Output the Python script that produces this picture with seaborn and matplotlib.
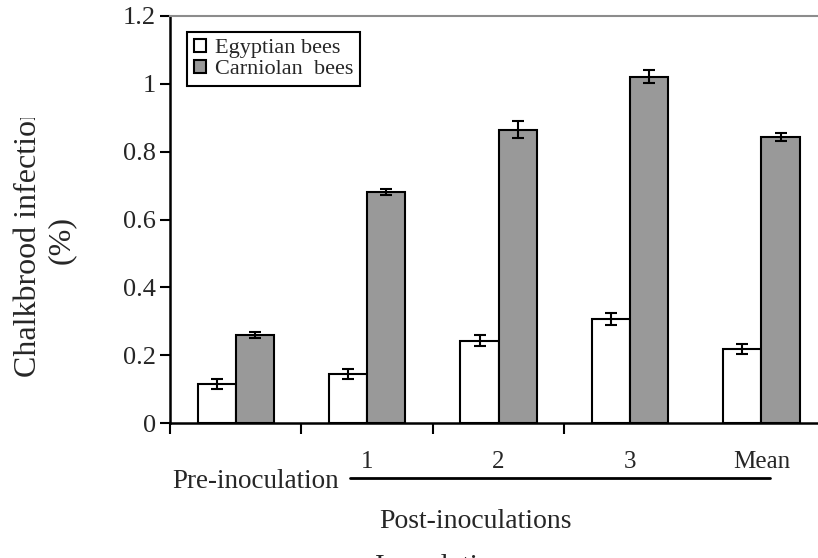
import numpy as np
import pandas as pd
import matplotlib
matplotlib.use('Agg')
import matplotlib.pyplot as plt
from matplotlib.transforms import Bbox, TransformedBbox
import seaborn as sns

# values
periods = ['Pre-inoculation', '1', '2', '3', 'Mean']
races = ['Egyptian bees', 'Carniolan  bees']
egyptian = [0.115, 0.145, 0.243, 0.307, 0.219]
egyptian_err = [0.015, 0.014, 0.017, 0.018, 0.015]
carniolan = [0.260, 0.681, 0.865, 1.021, 0.842]
carniolan_err = [0.009, 0.009, 0.025, 0.020, 0.012]
yticks = [0, 0.2, 0.4, 0.6, 0.8, 1, 1.2]
ytick_labels = ['0', '0.2', '0.4', '0.6', '0.8', '1', '1.2']

df = pd.DataFrame({
    'period': periods * 2,
    'race': [races[0]] * len(periods) + [races[1]] * len(periods),
    'infection': egyptian + carniolan,
})

sns.set_style('white')
plt.rcParams['font.family'] = ['Liberation Serif', 'DejaVu Serif']

fig = plt.figure(figsize=(8.18, 5.58), dpi=100)
W, H = 818, 558
ax = fig.add_axes([170 / W, (H - 423) / H, (W - 170) / W, (423 - 16) / H])

sns.barplot(data=df, x='period', y='infection', hue='race', order=periods,
            hue_order=races, palette=['white', '#999999'], edgecolor='black',
            linewidth=1.5, width=0.58, errorbar=None, ax=ax)

# error bars on top of each bar
for cont, errs in zip(ax.containers, [egyptian_err, carniolan_err]):
    xs = [b.get_x() + b.get_width() / 2 for b in cont]
    ys = [b.get_height() for b in cont]
    ax.errorbar(xs, ys, yerr=errs, fmt='none', ecolor='black',
                elinewidth=1.5, capsize=4.5, capthick=1.5, zorder=5)

ax.set_xlim(-0.5, 4.43)
ax.set_ylim(0, 1.2)
ax.set_yticks(yticks)
ax.set_yticklabels(ytick_labels, fontsize=19)
ax.set_xticks(np.arange(len(periods) - 1) - 0.5)
ax.set_xticklabels([])
ax.tick_params(axis='y', direction='out', length=7, width=1.5, color='black', left=True, pad=3)
ax.tick_params(axis='x', direction='out', length=8, width=1.5, color='black', bottom=True)
ax.set_xlabel('')
ax.set_ylabel('')

for s in ['left', 'bottom']:
    ax.spines[s].set_color('black')
    ax.spines[s].set_linewidth(1.8)
ax.spines['top'].set_color('#8c8c8c')
ax.spines['top'].set_linewidth(1.5)
ax.spines['right'].set_visible(False)

handles, labels = ax.get_legend_handles_labels()
leg = ax.legend(handles, labels, loc='upper left', bbox_to_anchor=(0.026, 0.961),
                borderaxespad=0, fontsize=16, frameon=True, fancybox=False,
                framealpha=1, edgecolor='black', handlelength=0.55,
                handleheight=0.55, handletextpad=0.4, labelspacing=0.08,
                borderpad=0.3)
leg.get_frame().set_linewidth(1.5)

# category labels under the axis
for i, lab in enumerate(periods[1:], start=1):
    ax.text(i, -(462 - 423) / (423 - 16), lab, transform=ax.get_xaxis_transform(),
            ha='center', va='center', fontsize=18)

fig.text(339 / W, 1 - 482 / H, 'Pre-inoculation', ha='right', va='center', fontsize=19.5)
fig.add_artist(plt.Line2D([350 / W, 770 / W], [1 - 478 / H, 1 - 478 / H],
                          color='black', lw=2))
fig.text(475 / W, 1 - 522 / H, 'Post-inoculations', ha='center', va='center', fontsize=20)
# a label cut off by the bottom edge in the original
fig.text(442 / W, -0.029, 'Inoculation', ha='center', va='baseline', fontsize=21)

ylab = fig.text(45 / W, 1 - 240 / H, 'Chalkbrood infection\n(%)', rotation=90,
                ha='center', va='center', multialignment='center', fontsize=23,
                linespacing=1.2)
ylab.set_clip_box(TransformedBbox(Bbox([[0, 0], [1, 1 - 118 / H]]), fig.transFigure))
ylab.set_clip_on(True)

fig.savefig('out.png', dpi=100)
